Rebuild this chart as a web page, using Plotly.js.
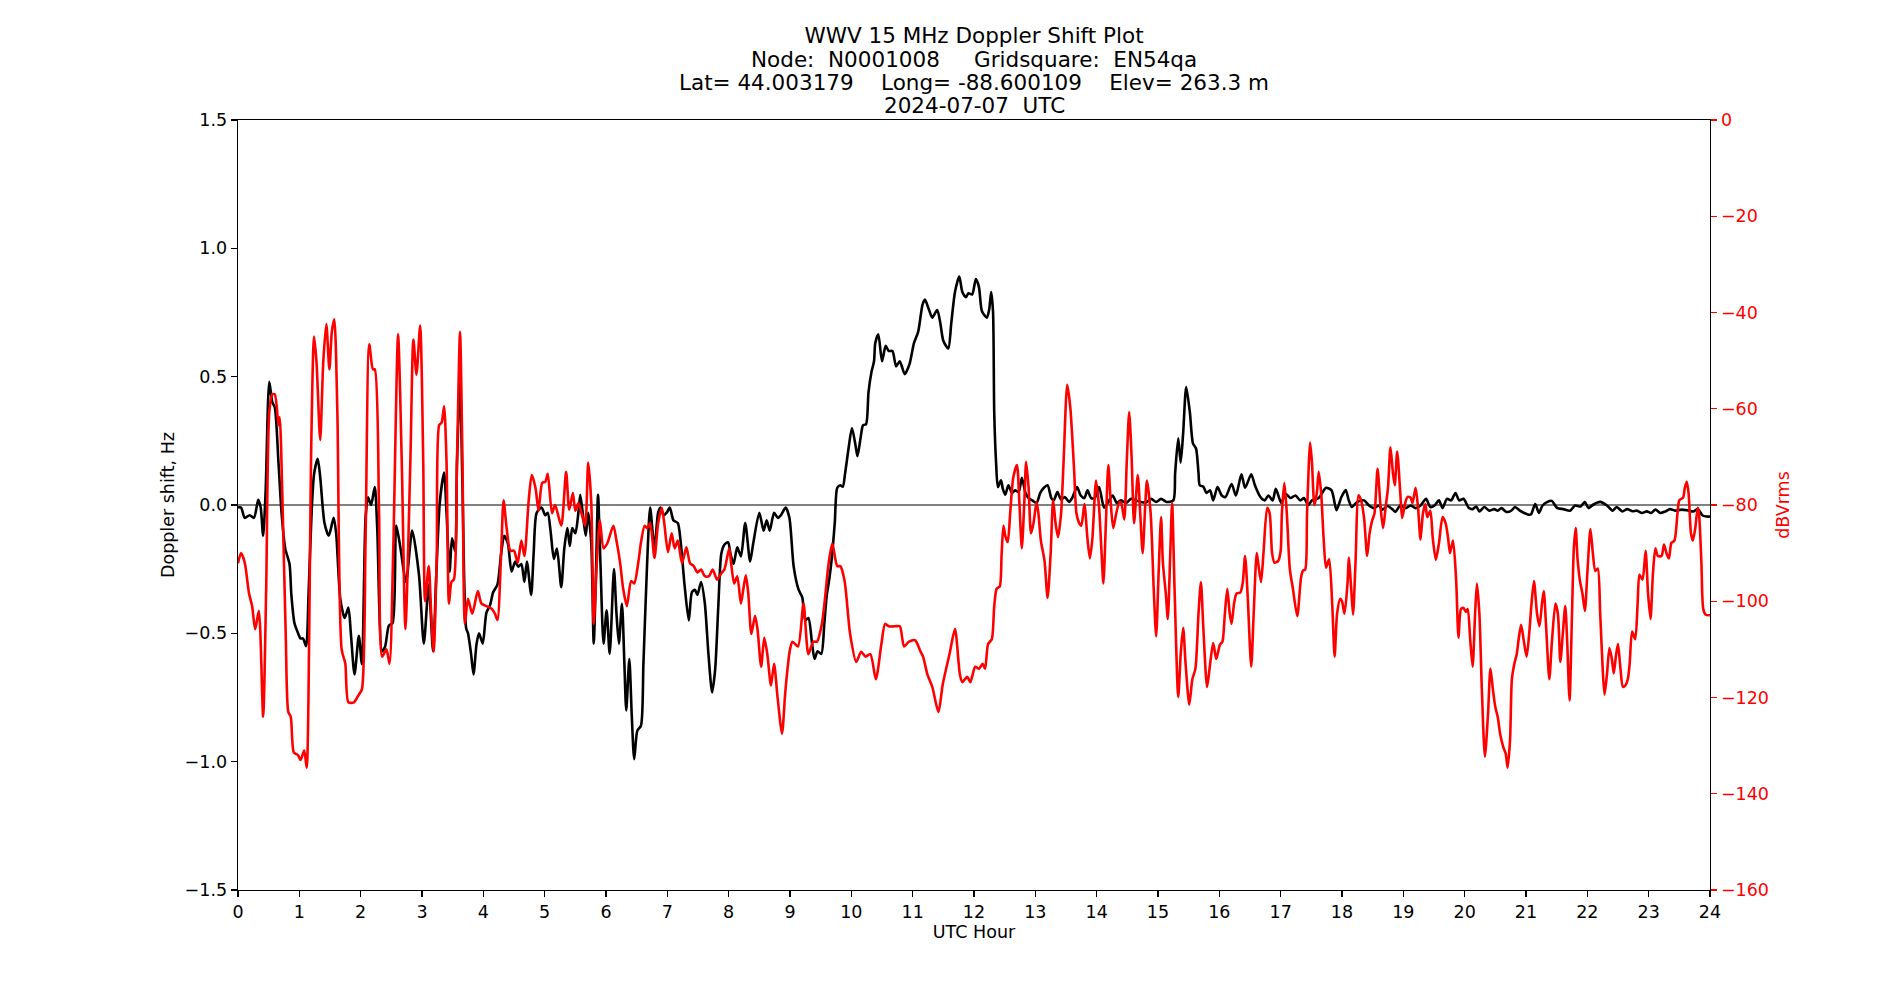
<!DOCTYPE html>
<html>
<head>
<meta charset="utf-8">
<script src="https://cdn.plot.ly/plotly-3.0.1.min.js"></script>
<style>html,body{margin:0;padding:0;background:#fff;}#chart{width:1900px;height:1000px;}</style>
</head>
<body>
<div id="chart"></div>
<script>
// ---- Data ----
// Doppler shift (Hz) vs UTC hour
const hoursBlack = [0.00,0.05,0.11,0.19,0.26,0.33,0.37,0.41,0.45,0.51,0.56,0.60,0.66,0.71,0.77,0.84,0.87,0.92,0.98,1.02,1.06,1.11,1.15,1.20,1.24,1.30,1.34,1.41,1.48,1.56,1.60,1.67,1.74,1.80,1.84,1.90,1.97,2.02,2.08,2.12,2.17,2.23,2.27,2.35,2.40,2.46,2.52,2.58,2.65,2.74,2.84,2.95,3.03,3.11,3.18,3.23,3.29,3.36,3.40,3.45,3.49,3.54,3.57,3.62,3.66,3.72,3.75,3.80,3.84,3.89,3.93,3.99,4.05,4.11,4.16,4.23,4.29,4.34,4.40,4.46,4.52,4.57,4.62,4.67,4.71,4.78,4.82,4.87,4.95,5.01,5.05,5.10,5.15,5.20,5.27,5.32,5.37,5.41,5.45,5.50,5.55,5.58,5.63,5.67,5.71,5.76,5.80,5.84,5.87,5.91,5.96,6.01,6.06,6.13,6.17,6.21,6.26,6.30,6.33,6.38,6.42,6.46,6.51,6.57,6.61,6.67,6.72,6.79,6.85,6.89,6.94,6.99,7.04,7.10,7.17,7.22,7.28,7.35,7.40,7.45,7.49,7.55,7.61,7.67,7.73,7.78,7.83,7.88,7.93,7.99,8.03,8.08,8.14,8.20,8.27,8.35,8.40,8.50,8.57,8.62,8.67,8.74,8.80,8.85,8.93,8.99,9.06,9.14,9.20,9.25,9.30,9.36,9.40,9.45,9.51,9.56,9.60,9.64,9.68,9.73,9.77,9.82,9.86,9.90,9.96,10.01,10.07,10.10,10.15,10.19,10.24,10.28,10.33,10.37,10.39,10.44,10.50,10.56,10.61,10.67,10.73,10.79,10.87,10.95,11.02,11.09,11.16,11.20,11.26,11.32,11.40,11.45,11.50,11.58,11.63,11.69,11.76,11.81,11.87,11.91,11.97,12.03,12.08,12.13,12.21,12.25,12.28,12.31,12.33,12.36,12.39,12.44,12.47,12.51,12.56,12.62,12.67,12.73,12.78,12.84,12.89,12.95,13.02,13.08,13.14,13.20,13.26,13.30,13.36,13.42,13.48,13.55,13.60,13.68,13.74,13.80,13.85,13.91,13.97,14.04,14.12,14.19,14.26,14.33,14.39,14.48,14.56,14.64,14.72,14.80,14.89,14.97,15.05,15.14,15.25,15.28,15.33,15.37,15.41,15.46,15.52,15.57,15.62,15.66,15.68,15.74,15.79,15.85,15.90,15.97,16.04,16.10,16.20,16.27,16.36,16.42,16.52,16.58,16.67,16.74,16.80,16.87,16.92,17.01,17.08,17.16,17.24,17.32,17.38,17.45,17.51,17.62,17.74,17.83,17.91,17.99,18.06,18.11,18.16,18.25,18.36,18.44,18.52,18.60,18.66,18.74,18.82,18.87,18.95,19.04,19.12,19.20,19.28,19.37,19.44,19.51,19.58,19.64,19.71,19.78,19.85,19.91,19.98,20.07,20.13,20.19,20.24,20.32,20.40,20.48,20.54,20.60,20.68,20.76,20.82,20.90,20.97,21.03,21.08,21.15,21.21,21.27,21.35,21.42,21.51,21.61,21.72,21.80,21.89,21.96,22.02,22.10,22.21,22.32,22.41,22.48,22.57,22.65,22.73,22.81,22.89,22.97,23.04,23.11,23.19,23.27,23.35,23.43,23.54,23.65,23.73,23.80,23.88,23.95,24.00];
const dopplerHz = [-0.01,-0.01,-0.05,-0.04,-0.05,0.02,-0.01,-0.12,0.05,0.48,0.40,0.38,0.165,-0.03,-0.17,-0.23,-0.35,-0.46,-0.50,-0.52,-0.52,-0.55,-0.35,-0.03,0.12,0.18,0.11,-0.07,-0.12,-0.05,-0.11,-0.37,-0.44,-0.40,-0.50,-0.66,-0.51,-0.62,-0.05,0.03,0.00,0.07,-0.09,-0.57,-0.55,-0.47,-0.46,-0.08,-0.17,-0.30,-0.10,-0.27,-0.54,-0.31,-0.57,-0.29,0.01,0.126,-0.03,-0.26,-0.13,-0.18,0.16,0.48,0.07,-0.48,-0.50,-0.58,-0.66,-0.54,-0.50,-0.54,-0.42,-0.39,-0.34,-0.31,-0.19,-0.12,-0.15,-0.26,-0.22,-0.24,-0.23,-0.30,-0.22,-0.35,-0.19,-0.03,-0.01,-0.04,-0.03,-0.11,-0.21,-0.17,-0.32,-0.17,-0.09,-0.16,-0.09,-0.11,-0.03,0.04,-0.05,-0.12,-0.03,-0.15,-0.54,-0.23,0.04,-0.23,-0.54,-0.41,-0.58,-0.25,-0.42,-0.54,-0.385,-0.62,-0.80,-0.60,-0.82,-0.99,-0.88,-0.86,-0.62,-0.23,-0.01,-0.17,-0.03,-0.01,-0.04,-0.03,-0.01,-0.06,-0.07,-0.15,-0.31,-0.45,-0.34,-0.33,-0.35,-0.30,-0.38,-0.58,-0.73,-0.64,-0.40,-0.19,-0.155,-0.145,-0.19,-0.23,-0.165,-0.20,-0.07,-0.22,-0.15,-0.03,-0.10,-0.06,-0.10,-0.03,-0.05,-0.04,-0.01,-0.05,-0.24,-0.33,-0.36,-0.45,-0.44,-0.54,-0.60,-0.57,-0.58,-0.46,-0.35,-0.29,-0.21,-0.07,0.067,0.077,0.071,0.126,0.23,0.30,0.23,0.19,0.26,0.31,0.315,0.44,0.52,0.56,0.63,0.665,0.56,0.62,0.60,0.60,0.54,0.56,0.51,0.55,0.63,0.675,0.78,0.80,0.765,0.73,0.76,0.71,0.64,0.61,0.71,0.83,0.89,0.83,0.81,0.825,0.82,0.88,0.85,0.755,0.73,0.765,0.83,0.755,0.36,0.165,0.07,0.096,0.063,0.04,0.077,0.047,0.057,0.051,0.106,0.047,0.027,0.018,0.008,0.047,0.067,0.077,0.027,0.018,0.05,0.021,0.031,0.012,0.027,0.07,0.037,0.027,0.057,0.027,0.027,0.07,-0.01,0.012,0.037,0.008,0.018,0.008,0.024,0.018,0.012,0.01,0.024,0.012,0.024,0.012,0.018,0.126,0.26,0.165,0.28,0.46,0.36,0.24,0.22,0.126,0.077,0.071,0.047,0.057,0.018,0.07,0.037,0.031,0.082,0.037,0.12,0.067,0.12,0.077,0.031,0.018,0.037,0.018,0.063,0.008,0.043,0.027,0.037,0.018,0.027,0.0,0.018,0.027,0.067,0.057,-0.02,0.031,0.058,0.018,-0.008,0.012,0.018,-0.002,-0.012,-0.002,-0.018,-0.004,-0.016,-0.027,-0.002,-0.012,-0.002,-0.012,-0.002,0.024,-0.008,-0.002,0.018,-0.012,0.024,0.018,0.047,0.018,0.024,-0.012,-0.016,-0.006,-0.025,-0.008,-0.022,-0.016,-0.022,-0.012,-0.027,-0.022,-0.008,-0.022,-0.031,-0.037,-0.037,0.004,-0.031,-0.002,0.012,0.016,-0.012,-0.016,-0.022,-0.002,-0.006,0.012,-0.012,0.002,0.012,-0.002,-0.022,-0.008,-0.025,-0.016,-0.024,-0.022,-0.031,-0.025,-0.031,-0.018,-0.031,-0.025,-0.016,-0.022,-0.018,-0.022,-0.025,-0.016,-0.041,-0.045,-0.045];

// Signal level (dBVrms) vs UTC hour
const hoursRed = [0.00,0.05,0.11,0.18,0.23,0.28,0.34,0.41,0.46,0.51,0.56,0.60,0.66,0.68,0.73,0.78,0.82,0.86,0.91,0.98,1.02,1.08,1.12,1.16,1.19,1.24,1.28,1.34,1.39,1.44,1.49,1.53,1.57,1.62,1.69,1.75,1.80,1.89,1.97,2.02,2.08,2.14,2.20,2.23,2.30,2.35,2.42,2.47,2.53,2.61,2.67,2.73,2.81,2.86,2.91,2.97,3.02,3.05,3.11,3.15,3.19,3.24,3.28,3.32,3.36,3.40,3.44,3.48,3.52,3.57,3.62,3.66,3.70,3.75,3.82,3.91,3.97,4.05,4.14,4.19,4.23,4.29,4.33,4.38,4.44,4.50,4.56,4.62,4.67,4.74,4.79,4.85,4.90,4.96,5.01,5.05,5.12,5.17,5.27,5.35,5.40,5.46,5.50,5.55,5.60,5.66,5.71,5.76,5.80,5.85,5.90,5.96,6.02,6.12,6.17,6.23,6.28,6.34,6.41,6.46,6.53,6.57,6.63,6.67,6.72,6.79,6.85,6.91,6.95,7.01,7.07,7.12,7.17,7.24,7.31,7.37,7.43,7.49,7.55,7.61,7.68,7.74,7.81,7.88,7.93,8.01,8.04,8.09,8.14,8.20,8.24,8.28,8.32,8.37,8.43,8.47,8.53,8.58,8.63,8.69,8.74,8.80,8.87,8.92,8.96,9.00,9.04,9.13,9.22,9.30,9.38,9.44,9.52,9.57,9.63,9.69,9.77,9.82,9.89,9.98,10.08,10.16,10.23,10.31,10.40,10.49,10.55,10.61,10.71,10.79,10.86,10.94,11.04,11.13,11.17,11.24,11.32,11.42,11.49,11.60,11.69,11.77,11.81,11.89,11.94,12.02,12.08,12.14,12.18,12.23,12.29,12.33,12.37,12.42,12.45,12.48,12.51,12.55,12.59,12.64,12.70,12.74,12.78,12.82,12.85,12.89,12.93,12.97,13.02,13.05,13.09,13.15,13.20,13.25,13.29,13.33,13.37,13.42,13.46,13.52,13.57,13.63,13.67,13.71,13.75,13.80,13.85,13.89,13.93,13.99,14.04,14.08,14.11,14.15,14.19,14.23,14.27,14.32,14.37,14.40,14.45,14.49,14.53,14.57,14.61,14.67,14.71,14.75,14.79,14.82,14.88,14.93,14.97,15.01,15.05,15.08,15.13,15.16,15.20,15.23,15.27,15.33,15.37,15.41,15.45,15.51,15.56,15.61,15.66,15.70,15.74,15.80,15.85,15.90,15.95,16.01,16.05,16.09,16.13,16.17,16.20,16.24,16.28,16.34,16.38,16.42,16.46,16.52,16.56,16.61,16.64,16.68,16.72,16.78,16.82,16.86,16.90,16.96,17.00,17.02,17.06,17.10,17.15,17.20,17.27,17.33,17.36,17.40,17.43,17.48,17.51,17.55,17.59,17.62,17.66,17.70,17.74,17.79,17.84,17.88,17.92,17.97,18.00,18.04,18.09,18.11,18.15,18.18,18.22,18.27,18.31,18.36,18.41,18.45,18.49,18.53,18.58,18.63,18.67,18.71,18.75,18.79,18.83,18.86,18.90,18.95,18.98,19.03,19.07,19.12,19.15,19.20,19.24,19.28,19.32,19.36,19.39,19.44,19.48,19.53,19.58,19.64,19.69,19.73,19.76,19.81,19.86,19.90,19.94,19.98,20.02,20.05,20.09,20.13,20.17,20.20,20.24,20.28,20.33,20.38,20.42,20.46,20.50,20.54,20.58,20.63,20.67,20.70,20.74,20.77,20.81,20.85,20.88,20.92,20.96,21.01,21.05,21.09,21.13,21.18,21.22,21.26,21.29,21.33,21.38,21.42,21.48,21.52,21.56,21.60,21.64,21.67,21.71,21.75,21.78,21.81,21.84,21.88,21.92,21.96,22.00,22.05,22.09,22.13,22.17,22.21,22.25,22.28,22.32,22.36,22.40,22.43,22.47,22.50,22.54,22.58,22.62,22.66,22.69,22.73,22.78,22.82,22.85,22.90,22.95,22.99,23.03,23.07,23.11,23.15,23.21,23.25,23.29,23.33,23.37,23.42,23.47,23.50,23.56,23.59,23.62,23.65,23.69,23.72,23.76,23.80,23.82,23.86,23.89,23.93,24.00];
const powerDb = [-92.1,-90,-92,-98.4,-101,-105.8,-102,-124,-97,-60.7,-57,-57,-63.4,-61.8,-81.7,-108,-123,-124,-131.4,-132,-133,-131,-134.6,-108,-71,-45,-50.3,-66.5,-50.3,-42.4,-51.8,-44,-41.4,-60.7,-110,-113,-121,-121,-119.4,-118.3,-87,-46.6,-51.8,-51.8,-81.7,-111.5,-110,-113,-90,-44.5,-71,-105.8,-71,-45.6,-52.9,-42.7,-71,-100,-92.7,-102.6,-110.5,-91,-63.4,-62.9,-59.5,-71,-100.5,-96,-95.5,-71,-44,-71,-104.7,-99.5,-102.6,-97.9,-100.5,-101,-101.6,-102.6,-103.9,-90,-79,-84.8,-89.5,-89.5,-92,-87.4,-90.6,-79,-73.8,-76.4,-81.2,-75.4,-75.2,-73.5,-81.7,-80,-84.3,-73.1,-81,-77.5,-81.2,-79.6,-81.7,-84.3,-71.2,-79.6,-104.7,-92,-83.2,-89,-88,-84.3,-87.4,-92,-97.4,-101,-95.8,-96.3,-91.6,-87.8,-84.3,-84.8,-83.8,-91,-83.8,-80.6,-83.8,-89.8,-85.9,-89,-87.4,-92.1,-88.8,-92.1,-92.7,-94,-93.4,-94.8,-94.8,-93.4,-95.5,-94.2,-93.4,-89,-92.1,-96.3,-94.8,-100.5,-97.4,-94.6,-98.4,-106.8,-103,-105.8,-113.6,-107.6,-111,-117.5,-113,-120.3,-127.5,-119.4,-114,-110,-108.4,-109.4,-100.5,-111,-108.4,-108.4,-104.7,-99.5,-92.1,-88,-92.7,-92.7,-95.8,-106.8,-112.6,-110.5,-111.5,-111,-116.2,-108.9,-104.7,-105.2,-105.2,-105.2,-109.4,-108.4,-108.1,-110.5,-111.5,-115.2,-117.8,-123,-117.3,-111,-105.8,-115.2,-116.8,-115.7,-116.8,-113.6,-114,-113,-114,-108.9,-107.9,-101,-97.4,-96.9,-90.3,-84.3,-86.4,-87.7,-81.7,-74.3,-71.7,-79.6,-89,-79.6,-71,-76.4,-85.9,-83.8,-79.4,-81.7,-87.4,-91.6,-99.3,-90,-79,-83.8,-86.7,-81.7,-71.2,-55,-59.7,-72.2,-81.7,-83.6,-84.3,-79.8,-87,-91.1,-87,-74.9,-80.6,-90,-96.3,-83.8,-71.7,-79.6,-84.8,-81.7,-79.4,-79.6,-83,-71.2,-60.7,-70.2,-83.8,-73.8,-81.7,-90,-80.6,-74.9,-81.7,-97.4,-107.3,-94.2,-82.5,-92,-98.8,-103.7,-90,-79.6,-97.4,-119.9,-111,-105.5,-113,-121.5,-116.2,-114,-102.6,-96,-105.8,-117.8,-113,-108.7,-112,-109,-108.4,-102.6,-97.4,-102.6,-104.7,-100.5,-98.4,-98.2,-96.3,-90.6,-98.4,-113.6,-102.6,-90,-92.7,-96,-90,-80.6,-81.7,-90,-92,-91.6,-89.5,-81.7,-75.4,-81.7,-93.4,-97.4,-103.1,-95.3,-93.7,-93.4,-81.7,-67,-71.2,-80,-77.5,-73.1,-77.5,-86.9,-93,-91.3,-100.5,-111.5,-102.6,-99.5,-100,-102.6,-96.3,-90.9,-97.4,-102.8,-92.1,-78,-79,-82.7,-90.6,-85.9,-83.3,-81.7,-72.5,-80.6,-84.8,-80.6,-76.4,-68,-73.3,-75.9,-68.9,-77.5,-82.7,-79.6,-78.3,-78.5,-79.6,-76.4,-80.6,-87.2,-81.7,-79.8,-82.5,-81.2,-86.9,-91.4,-88,-82.5,-83.8,-86.9,-90,-87.4,-95.3,-107.6,-101.6,-101.4,-102.2,-101.6,-107.9,-113.6,-102.6,-96.3,-102.6,-118.3,-132.3,-123.6,-114,-118.3,-122,-124.1,-127.7,-130.3,-131.7,-134.6,-128.8,-116.2,-113,-110.9,-107.9,-104.9,-107.9,-111.5,-107,-100.5,-95.8,-102.6,-105.2,-100.5,-97.9,-105.8,-116.2,-108.9,-100.5,-102.6,-112.6,-106.8,-101,-107.9,-120.6,-102.6,-89,-84.8,-91.1,-95.8,-98.4,-102,-94.2,-85,-90,-93.7,-93.2,-102.6,-114,-119.4,-115.2,-109.7,-112,-115,-111,-108.9,-114,-117.8,-117.5,-116.2,-113,-106.3,-107.9,-100.5,-94.5,-95.5,-89.5,-98.4,-103.7,-94.2,-89,-90.6,-90.6,-88.2,-90,-91.1,-87.9,-87.4,-81.7,-79,-78.5,-76.4,-75.2,-77.5,-85.9,-87.4,-84.8,-80.6,-81.7,-92.1,-101.6,-102.8,-102.9];

// Tick labels
const xTickVals = [0,1,2,3,4,5,6,7,8,9,10,11,12,13,14,15,16,17,18,19,20,21,22,23,24];
const xTickText = ["0","1","2","3","4","5","6","7","8","9","10","11","12","13","14","15","16","17","18","19","20","21","22","23","24"];
const yTickVals = [-1.5,-1.0,-0.5,0.0,0.5,1.0,1.5];
const yTickText = ["\u22121.5","\u22121.0","\u22120.5","0.0","0.5","1.0","1.5"];
const y2TickVals = [-160,-140,-120,-100,-80,-60,-40,-20,0];
const y2TickText = ["\u2212160","\u2212140","\u2212120","\u2212100","\u221280","\u221260","\u221240","\u221220","0"];

// Title lines
const titleMain = "WWV 15 MHz Doppler Shift Plot";
const titleSub = [
  "Node:\u00a0\u00a0N0001008\u00a0\u00a0\u00a0\u00a0\u00a0Gridsquare:\u00a0\u00a0EN54qa",
  "Lat=\u00a044.003179\u00a0\u00a0\u00a0\u00a0Long=\u00a0-88.600109\u00a0\u00a0\u00a0\u00a0Elev=\u00a0263.3\u00a0m",
  "2024-07-07\u00a0\u00a0UTC"
];

const FONT = "DejaVu Sans, Verdana, sans-serif";
const TITLE_SIZE = 21.5;
const LABEL_SIZE = 17.5;

// plot area: top 120px, bottom 890px (height 770)
const subCentersPx = [59.5, 82.5, 105];
const annotations = titleSub.map((t, i) => ({
  text: t, xref: "paper", yref: "paper", x: 0.5, y: (890 - subCentersPx[i]) / 770,
  xanchor: "center", yanchor: "middle", showarrow: false,
  font: {family: FONT, size: TITLE_SIZE, color: "black"}
}));

const traces = [
  {
    x: hoursBlack, y: dopplerHz, type: "scatter", mode: "lines",
    line: {color: "black", width: 2.6, shape: "spline", smoothing: 0.7},
    yaxis: "y", hoverinfo: "skip", showlegend: false
  },
  {
    x: hoursRed, y: powerDb, type: "scatter", mode: "lines",
    line: {color: "red", width: 2.6, shape: "spline", smoothing: 0.7},
    yaxis: "y2", hoverinfo: "skip", showlegend: false
  }
];

const layout = {
  width: 1900, height: 1000,
  margin: {l: 237.5, r: 190, t: 120, b: 110, pad: 0},
  paper_bgcolor: "white", plot_bgcolor: "white",
  font: {family: FONT, size: LABEL_SIZE, color: "black"},
  showlegend: false,
  title: {
    text: titleMain,
    font: {family: FONT, size: TITLE_SIZE, color: "black"},
    x: 0.5, xref: "paper", xanchor: "center",
    y: 0.965, yref: "container", yanchor: "middle"
  },
  annotations: annotations,
  xaxis: {
    range: [0, 24], tickmode: "array", tickvals: xTickVals, ticktext: xTickText,
    ticks: "outside", ticklen: 6, tickwidth: 1.4, tickcolor: "black",
    showline: true, linecolor: "black", linewidth: 1.4, mirror: true,
    showgrid: false, zeroline: false,
    tickfont: {family: FONT, size: LABEL_SIZE, color: "black"},
    title: {text: "UTC Hour", font: {family: FONT, size: LABEL_SIZE, color: "black"}, standoff: 3}
  },
  yaxis: {
    range: [-1.5, 1.5], tickmode: "array", tickvals: yTickVals, ticktext: yTickText,
    ticks: "outside", ticklen: 6, tickwidth: 1.4, tickcolor: "black",
    showline: true, linecolor: "black", linewidth: 1.4,
    showgrid: false, zeroline: true, zerolinecolor: "#808080", zerolinewidth: 1.2,
    tickfont: {family: FONT, size: LABEL_SIZE, color: "black"},
    title: {text: "Doppler shift, Hz", font: {family: FONT, size: LABEL_SIZE, color: "black"}, standoff: 5}
  },
  yaxis2: {
    overlaying: "y", side: "right",
    range: [-160, 0], tickmode: "array", tickvals: y2TickVals, ticktext: y2TickText,
    ticks: "outside", ticklen: 6, tickwidth: 1.4, tickcolor: "red",
    showline: true, linecolor: "black", linewidth: 1.4,
    showgrid: false, zeroline: false,
    tickfont: {family: FONT, size: LABEL_SIZE, color: "red"},
    title: {text: "dBVrms", font: {family: FONT, size: LABEL_SIZE, color: "red"}, standoff: 8}
  }
};

Plotly.newPlot("chart", traces, layout, {displayModeBar: false, staticPlot: true});
</script>
</body>
</html>
